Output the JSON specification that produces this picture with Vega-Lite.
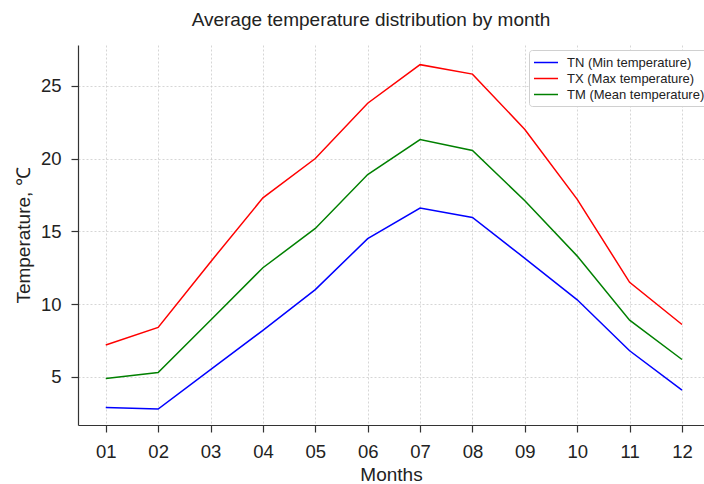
{
  "$schema": "https://vega.github.io/schema/vega-lite/v6.json",
  "autosize": "none",
  "padding": {"left": 78, "top": 45, "right": 0, "bottom": 59},
  "width": 626,
  "height": 380,
  "background": "white",
  "config": {
    "font": "Liberation Sans",
    "view": {"stroke": null},
    "axis": {
      "domainColor": "#333333",
      "domainWidth": 1.2,
      "tickColor": "#333333",
      "tickSize": 7,
      "tickWidth": 1.2,
      "gridColor": "#cccccc",
      "gridDash": [2, 2],
      "gridWidth": 0.8,
      "labelFontSize": 18.5,
      "labelColor": "#222222",
      "titleFontSize": 19,
      "titleFontWeight": "normal",
      "titleColor": "#222222"
    }
  },
  "title": {
    "text": "Average temperature distribution by month",
    "fontSize": 19,
    "fontWeight": "normal",
    "color": "#222222",
    "anchor": "middle",
    "dx": -20,
    "offset": 15
  },
  "data": {
    "values": [
      {"month": 1, "series": "TN (Min temperature)", "temp": 2.9},
      {"month": 2, "series": "TN (Min temperature)", "temp": 2.8},
      {"month": 3, "series": "TN (Min temperature)", "temp": 5.5},
      {"month": 4, "series": "TN (Min temperature)", "temp": 8.2},
      {"month": 5, "series": "TN (Min temperature)", "temp": 11.0},
      {"month": 6, "series": "TN (Min temperature)", "temp": 14.5},
      {"month": 7, "series": "TN (Min temperature)", "temp": 16.6},
      {"month": 8, "series": "TN (Min temperature)", "temp": 15.95},
      {"month": 9, "series": "TN (Min temperature)", "temp": 13.15},
      {"month": 10, "series": "TN (Min temperature)", "temp": 10.3},
      {"month": 11, "series": "TN (Min temperature)", "temp": 6.8},
      {"month": 12, "series": "TN (Min temperature)", "temp": 4.1},
      {"month": 1, "series": "TX (Max temperature)", "temp": 7.2},
      {"month": 2, "series": "TX (Max temperature)", "temp": 8.4},
      {"month": 3, "series": "TX (Max temperature)", "temp": 12.9},
      {"month": 4, "series": "TX (Max temperature)", "temp": 17.3},
      {"month": 5, "series": "TX (Max temperature)", "temp": 20.0},
      {"month": 6, "series": "TX (Max temperature)", "temp": 23.8},
      {"month": 7, "series": "TX (Max temperature)", "temp": 26.45},
      {"month": 8, "series": "TX (Max temperature)", "temp": 25.8},
      {"month": 9, "series": "TX (Max temperature)", "temp": 22.0},
      {"month": 10, "series": "TX (Max temperature)", "temp": 17.2},
      {"month": 11, "series": "TX (Max temperature)", "temp": 11.5},
      {"month": 12, "series": "TX (Max temperature)", "temp": 8.6},
      {"month": 1, "series": "TM (Mean temperature)", "temp": 4.9},
      {"month": 2, "series": "TM (Mean temperature)", "temp": 5.3},
      {"month": 3, "series": "TM (Mean temperature)", "temp": 8.9},
      {"month": 4, "series": "TM (Mean temperature)", "temp": 12.5},
      {"month": 5, "series": "TM (Mean temperature)", "temp": 15.2},
      {"month": 6, "series": "TM (Mean temperature)", "temp": 18.9},
      {"month": 7, "series": "TM (Mean temperature)", "temp": 21.3},
      {"month": 8, "series": "TM (Mean temperature)", "temp": 20.55},
      {"month": 9, "series": "TM (Mean temperature)", "temp": 17.1},
      {"month": 10, "series": "TM (Mean temperature)", "temp": 13.3},
      {"month": 11, "series": "TM (Mean temperature)", "temp": 8.9},
      {"month": 12, "series": "TM (Mean temperature)", "temp": 6.2}
    ]
  },
  "mark": {"type": "line", "strokeWidth": 1.5, "clip": true},
  "encoding": {
    "x": {
      "field": "month",
      "type": "quantitative",
      "title": "Months",
      "scale": {"domain": [0.47, 12.42], "nice": false, "zero": false},
      "axis": {
        "values": [1, 2, 3, 4, 5, 6, 7, 8, 9, 10, 11, 12],
        "format": "02d",
        "labelPadding": 10,
        "titlePadding": 5,
        "labelFlush": false
      }
    },
    "y": {
      "field": "temp",
      "type": "quantitative",
      "title": "Temperature, ℃",
      "scale": {"domain": [1.7, 27.8], "nice": false, "zero": false},
      "axis": {
        "values": [5, 10, 15, 20, 25],
        "labelPadding": 10,
        "titlePadding": 7,
        "labelFlush": false
      }
    },
    "color": {
      "field": "series",
      "type": "nominal",
      "scale": {
        "domain": ["TN (Min temperature)", "TX (Max temperature)", "TM (Mean temperature)"],
        "range": ["#0000ff", "#ff0000", "#008000"]
      },
      "legend": {
        "title": null,
        "orient": "none",
        "legendX": 451,
        "legendY": 5,
        "symbolType": "M-1,0L2.2,0",
        "symbolSize": 225,
        "symbolStrokeWidth": 1.5,
        "labelFontSize": 13,
        "labelOffset": 17,
        "labelColor": "#222222",
        "rowPadding": 0,
        "padding": 4,
        "strokeColor": "#d0d0d0",
        "fillColor": "white",
        "cornerRadius": 3
      }
    }
  }
}
